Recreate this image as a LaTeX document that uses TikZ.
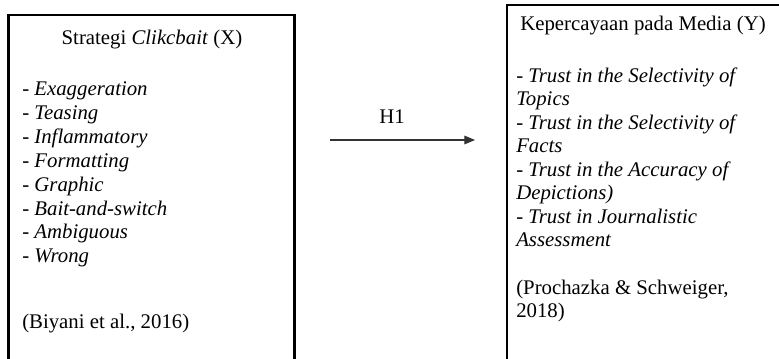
\documentclass[tikz,border=0pt]{standalone}
\usepackage{fontspec}
\setmainfont{Liberation Serif}
\usetikzlibrary{arrows.meta}
\tikzset{
  txt/.style={anchor=base west, inner sep=0pt, font=\fontsize{15.6pt}{18pt}\selectfont},
  ttl/.style={anchor=base, inner sep=0pt, font=\fontsize{15.6pt}{18pt}\selectfont},
  frame/.style={draw=black, line width=1.6pt},
  link/.style={draw=black!80, line width=0.8pt, -{Triangle[length=8pt,width=6.5pt]}}
}
\begin{document}
\begin{tikzpicture}[x=0.75pt,y=-0.75pt]
\useasboundingbox (0,0) rectangle (779,358);
\clip (0,0) rectangle (779,358);
% boxes
\draw[frame] (8.5,15) rectangle (294.5,375);
\draw[frame] (507,5) rectangle (795,375);
% left box text
\node[ttl] (tx) at (152,44) {Strategi \textit{Clikcbait} (X)};
\node[txt] (x1) at (22,95) {- \textit{Exaggeration}};
\node[txt] (x2) at (22,119) {- \textit{Teasing}};
\node[txt] (x3) at (22,143) {- \textit{Inflammatory}};
\node[txt] (x4) at (22,167) {- \textit{Formatting}};
\node[txt] (x5) at (22,191) {- \textit{Graphic}};
\node[txt] (x6) at (22,215) {- \textit{Bait-and-switch}};
\node[txt] (x7) at (22,238) {- \textit{Ambiguous}};
\node[txt] (x8) at (22,262) {- \textit{Wrong}};
\node[txt] (xr) at (22,328) {(Biyani et al., 2016)};
% right box text
\node[ttl] (ty) at (643,30) {Kepercayaan pada Media (Y)};
\node[txt] (y1) at (516,82) {- \textit{Trust in the Selectivity of}};
\node[txt] (y2) at (516,105) {\textit{Topics}};
\node[txt] (y3) at (516,129) {- \textit{Trust in the Selectivity of}};
\node[txt] (y4) at (516,152) {\textit{Facts}};
\node[txt] (y5) at (516,176) {- \textit{Trust in the Accuracy of}};
\node[txt] (y6) at (516,199) {\textit{Depictions)}};
\node[txt] (y7) at (516,223) {- \textit{Trust in Journalistic}};
\node[txt] (y8) at (516,246) {\textit{Assessment}};
\node[txt] (yr1) at (516,294) {(Prochazka \& Schweiger,};
\node[txt] (yr2) at (516,317) {2018)};
% arrow
\coordinate (a1) at (330,140);
\coordinate (a2) at (475,140);
\node[ttl] (h1) at (392,123) {H1};
\path[link] (a1) -- (a2);
\end{tikzpicture}
\end{document}
